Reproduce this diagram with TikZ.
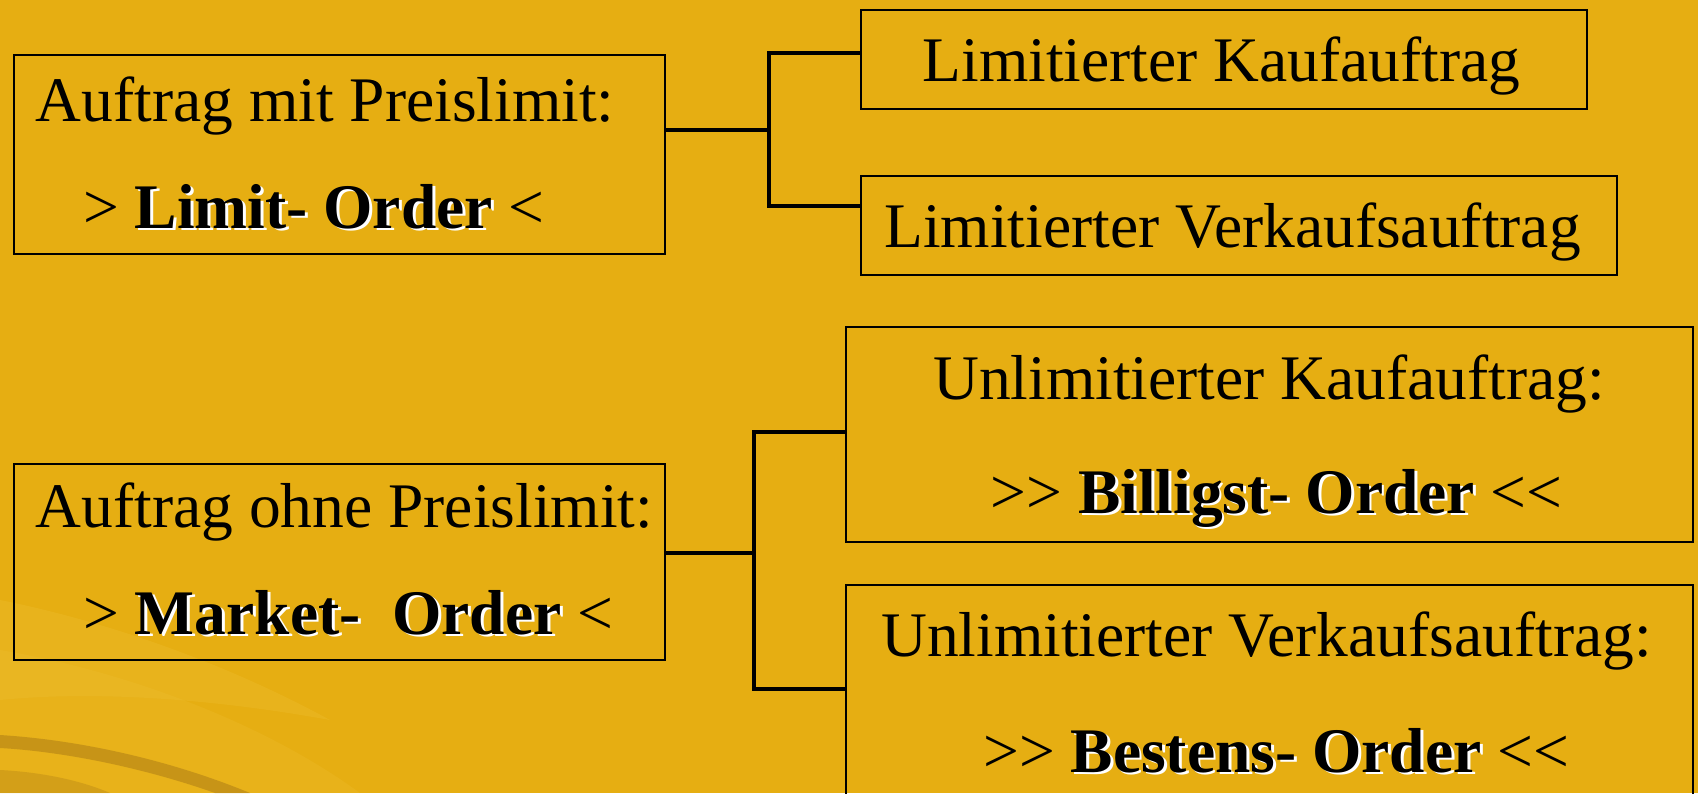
\documentclass[tikz,border=0pt]{standalone}
\usepackage{fontspec}
\setmainfont{Liberation Serif}
\usetikzlibrary{calc}
\definecolor{bg}{RGB}{230,174,18}
\definecolor{bglight}{RGB}{240,196,60}
\definecolor{bgdark}{RGB}{150,105,20}
\newcommand\shd[1]{\makebox[0pt][l]{\hspace{2.8pt}\raisebox{-2.8pt}{\color{white}#1}}#1}
\tikzset{
  box/.style={draw=black, line width=2pt, rectangle, inner sep=0pt, anchor=north west},
  txt/.style={anchor=base west, inner sep=0pt, font=\fontsize{63.5}{76}\selectfont},
  conn/.style={draw=black, line width=4pt},
}
\begin{document}
\begin{tikzpicture}[x=1pt,y=-1pt]
\useasboundingbox (0,0) rectangle (1698,793);
\fill[bg] (0,0) rectangle (1698,793);
% background swoosh bottom-left
\begin{scope}
\clip (0,0) rectangle (1698,793);
\fill[bglight, opacity=0.25] (0,600) .. controls (100,620) and (220,660) .. (330,720) .. controls (220,700) and (100,690) .. (0,700) -- cycle;
\fill[bglight, opacity=0.2] (0,650) .. controls (120,670) and (260,720) .. (360,793) -- (0,793) -- cycle;
\fill[bgdark, opacity=0.4] (0,735) .. controls (80,740) and (170,760) .. (250,793) -- (215,793) .. controls (150,770) and (70,752) .. (0,748) -- cycle;
\fill[bgdark, opacity=0.25] (0,770) .. controls (40,772) and (80,780) .. (110,793) -- (0,793) -- cycle;
\end{scope}

% boxes
\node[box, minimum width=651pt, minimum height=199pt] (b1) at (13,54) {};
\node[box, minimum width=726pt, minimum height=99pt] (lk) at (860,9) {};
\node[box, minimum width=756pt, minimum height=99pt] (lv) at (860,175) {};
\node[box, minimum width=651pt, minimum height=196pt] (b2) at (13,463) {};
\node[box, minimum width=847pt, minimum height=215pt] (bk) at (845,326) {};
\node[box, minimum width=847pt, minimum height=250pt] (bv) at (845,584) {};

% texts
\node[txt] (t1a) at (35.6,121) {Auftrag mit Preislimit:};
\node[txt] (t1b) at (83,228) {> \textbf{\shd{Limit- Order}} <};
\node[txt] (t2a) at (35.6,527) {Auftrag ohne Preislimit:};
\node[txt] (t2b) at (83,634) {> \textbf{\shd{Market-~ Order}} <};
\node[txt] (tlk) at (922.5,81.7) {Limitierter Kaufauftrag};
\node[txt] (tlv) at (884,247) {Limitierter Verkaufsauftrag};
\node[txt] (tbk1) at (933,399) {Unlimitierter Kaufauftrag:};
\node[txt] (tbk2) at (990.5,513) {>{}> \textbf{\shd{Billigst- Order}} <{}<};
\node[txt] (tbv1) at (881,656) {Unlimitierter Verkaufsauftrag:};
\node[txt] (tbv2) at (983,772) {>{}> \textbf{\shd{Bestens- Order}} <{}<};

% connectors (top)
\coordinate (j1) at (769,130);
\coordinate (u1) at (769,53);
\coordinate (d1) at (769,206);
\draw[conn] (b1.east |- j1) -- (j1);
\draw[conn] (lk.west |- u1) -- (u1) -- (d1) -- (lv.west |- d1);
% connectors (bottom)
\coordinate (j2) at (754,553);
\coordinate (u2) at (754,432);
\coordinate (d2) at (754,689);
\draw[conn] (b2.east |- j2) -- (j2);
\draw[conn] (bk.west |- u2) -- (u2) -- (d2) -- (bv.west |- d2);
\end{tikzpicture}
\end{document}
